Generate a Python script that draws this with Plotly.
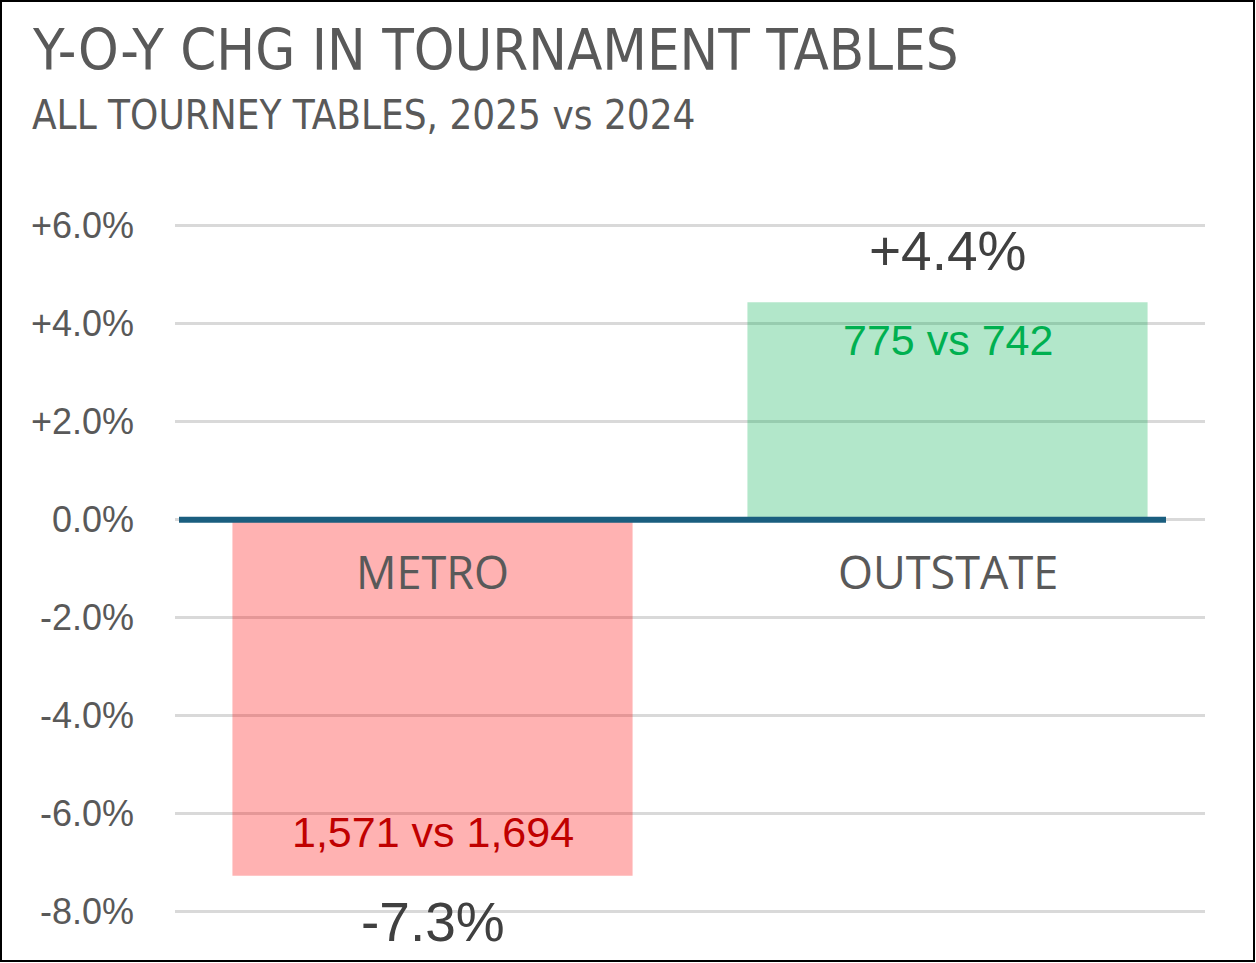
import plotly.graph_objects as go

# ── Data ──────────────────────────────────────────────────────────────
categories   = ["METRO", "OUTSTATE"]
pct_change   = [-7.26, 4.44]
count_labels = ["1,571 vs 1,694", "775 vs 742"]

tick_vals = [-8, -6, -4, -2, 0, 2, 4, 6]
tick_text = ["-8.0%", "-6.0%", "-4.0%", "-2.0%", "0.0%", "+2.0%", "+4.0%", "+6.0%"]

bar_colors   = ["rgba(255,0,0,0.3)", "rgba(0,176,80,0.3)"]
label_colors = ["#C00000", "#00B050"]

TITLE = "Y-O-Y CHG IN TOURNAMENT TABLES"
SUBTITLE = "ALL TOURNEY TABLES, 2025 vs 2024"

W, H = 1256, 963
ML, MR, MT, MB = 175, 51, 216, 7
PW, PH = W - ML - MR, H - MT - MB

GREY = "#595959"
NARROW = "Liberation Sans Narrow, DejaVu Sans Condensed, Arial Narrow, sans-serif"
SANS = "Liberation Sans, Arial, sans-serif"

fig = go.Figure(
    go.Bar(
        x=categories,
        y=pct_change,
        marker=dict(color=bar_colors, line=dict(width=0)),
        hoverinfo="skip",
    )
)

# ── Labels ────────────────────────────────────────────────────────────
ann = []
for cat, v, cl, col in zip(categories, pct_change, count_labels, label_colors):
    pos = v >= 0
    # value above / below the bar
    ann.append(dict(x=cat, y=v, text=f"{v:+.1f}%", showarrow=False,
                    yshift=51 if pos else -46,
                    font=dict(family=SANS, size=55, color="#404040")))
    # counts just inside the bar end
    ann.append(dict(x=cat, y=v, text=cl, showarrow=False,
                    yshift=-38 if pos else 44,
                    font=dict(family=SANS, size=43, color=col)))
    # category name under the zero line
    ann.append(dict(x=cat, y=0, text=cat, showarrow=False, yshift=-52,
                    font=dict(family="Open Sans, Noto Sans, sans-serif", size=45, color=GREY)))

ann.append(dict(xref="paper", yref="paper", x=(30 - ML) / PW, y=(H - MB - 50) / PH,
                xanchor="left", yanchor="middle", text=TITLE, showarrow=False,
                font=dict(family=NARROW, size=57.5, color=GREY)))
ann.append(dict(xref="paper", yref="paper", x=(30 - ML) / PW, y=(H - MB - 115) / PH,
                xanchor="left", yanchor="middle", text=SUBTITLE, showarrow=False,
                font=dict(family=NARROW, size=40, color=GREY)))

shapes = [
    # zero axis line (stops short of the right edge)
    dict(type="line", xref="paper", yref="y", x0=4 / PW, x1=991 / PW, y0=0, y1=0,
         line=dict(color="#1A5E7F", width=6)),
    # outer frame
    dict(type="rect", xref="paper", yref="paper",
         x0=-(ML - 1) / PW, x1=1 + (MR - 2) / PW, y0=-(MB - 2) / PH, y1=1 + (MT - 1) / PH,
         line=dict(color="black", width=2)),
]

fig.update_layout(
    width=W, height=H,
    margin=dict(l=ML, r=MR, t=MT, b=MB),
    paper_bgcolor="white", plot_bgcolor="white",
    showlegend=False,
    bargap=0.223,
    annotations=ann,
    shapes=shapes,
    xaxis=dict(type="category", range=[-0.5, 1.5], showticklabels=False,
               showgrid=False, zeroline=False, showline=False),
    yaxis=dict(range=[-8.9, 6.2], tickvals=tick_vals, ticktext=tick_text,
               showgrid=True, gridcolor="#D9D9D9", gridwidth=2.5,
               zeroline=False, showline=False, ticks="",
               ticklabelstandoff=40,
               tickfont=dict(family=SANS, size=36, color=GREY)),
)

# drop the browser's default page margin so the figure sits at the corner
fig.write_html("out.html", config={"displayModeBar": False},
               post_script="document.body.style.margin='0';document.body.style.overflow='hidden';")
